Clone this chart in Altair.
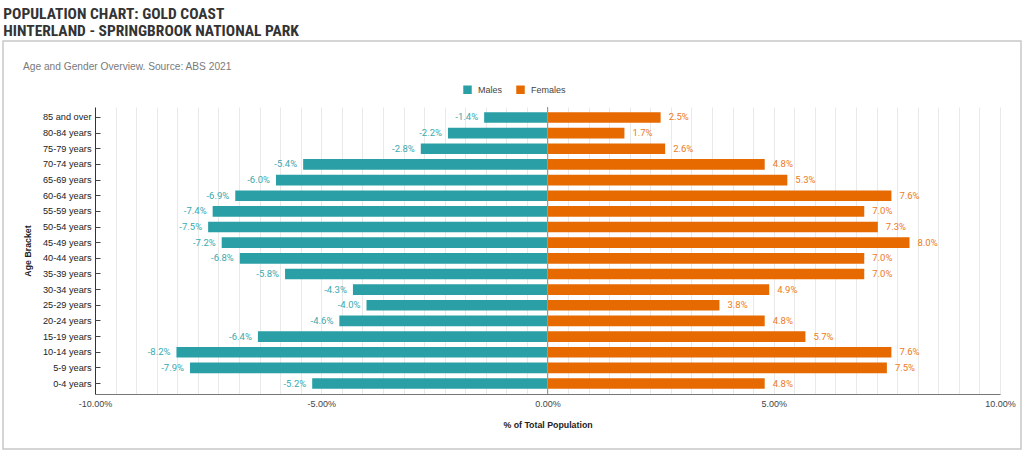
import altair as alt
import pandas as pd

title_lines = ["POPULATION CHART: GOLD COAST", "HINTERLAND - SPRINGBROOK NATIONAL PARK"]
subtitle = ["Age and Gender Overview. Source: ABS 2021"]
ages = ["85 and over", "80-84 years", "75-79 years", "70-74 years", "65-69 years",
        "60-64 years", "55-59 years", "50-54 years", "45-49 years", "40-44 years",
        "35-39 years", "30-34 years", "25-29 years", "20-24 years", "15-19 years",
        "10-14 years", "5-9 years", "0-4 years"]
males = [-1.4, -2.2, -2.8, -5.4, -6.0, -6.9, -7.4, -7.5, -7.2, -6.8,
         -5.8, -4.3, -4.0, -4.6, -6.4, -8.2, -7.9, -5.2]
females = [2.5, 1.7, 2.6, 4.8, 5.3, 7.6, 7.0, 7.3, 8.0, 7.0,
           7.0, 4.9, 3.8, 4.8, 5.7, 7.6, 7.5, 4.8]
series = ["Males", "Females"]
colors = ["#2a9fa6", "#e66a00"]
label_colors = ["#3aa9b0", "#ec7a1e"]
x_major = [-10, -5, 0, 5, 10]

rows = []
for a, m, f in zip(ages, males, females):
    rows.append({"age": a, "sex": "Males", "value": m, "label": f"{m:.1f}%"})
    rows.append({"age": a, "sex": "Females", "value": f, "label": f"{f:.1f}%"})
df = pd.DataFrame(rows)

# minor grid positions: 11 divisions between major ticks
grid_vals = []
for i in range(len(x_major) - 1):
    for k in range(11):
        grid_vals.append(round(x_major[i] + k * (x_major[i + 1] - x_major[i]) / 11, 6))
grid_vals.append(x_major[-1])

LAB = "Liberation Sans"
xscale = alt.Scale(domain=[-10, 10], nice=False, zero=False)
yscale = alt.Scale(domain=ages, paddingInner=0.32, paddingOuter=0.33)

label_expr = "(datum.value < 0 ? '-' : '') + format(abs(datum.value), '.2f') + '%'"

base = alt.Chart(df)

bars = base.mark_bar().encode(
    x=alt.X("value:Q", scale=xscale,
            axis=alt.Axis(orient="bottom", values=grid_vals, labels=False, title=None,
                          grid=True, gridColor="#e9e9e9", ticks=False, domainColor="#777")),
    y=alt.Y("age:N", scale=yscale,
            axis=alt.Axis(title="Age Bracket", ticks=False, domainColor="#333",
                          labelFont=LAB, labelFontSize=9.2, labelColor="#222", labelPadding=4,
                          titleFont=LAB, titleFontSize=8.8, titleFontWeight="bold",
                          titleColor="#222", titleX=-63)),
    color=alt.Color("sex:N", scale=alt.Scale(domain=series, range=colors),
                    legend=alt.Legend(title=None, orient="none", legendX=368, legendY=-22,
                                      direction="horizontal", symbolType="square",
                                      symbolSize=72, symbolStrokeWidth=0,
                                      labelFont=LAB, labelFontSize=9, labelColor="#444",
                                      columnPadding=13, labelOffset=6)),
)

zero = alt.Chart(pd.DataFrame({"zero": [0]})).mark_rule(color="#999", strokeWidth=1).encode(
    x=alt.X("zero:Q", scale=xscale,
            axis=alt.Axis(orient="bottom", values=x_major, labelExpr=label_expr, grid=False,
                          domain=False, ticks=False, labelFont=LAB, labelFontSize=9,
                          labelColor="#444", labelPadding=5, labelOverlap=False,
                          labelFlush=False, title="% of Total Population",
                          titleFont=LAB, titleFontSize=8.8, titleFontWeight="bold",
                          titleColor="#222", titlePadding=12)))

male_lbl = base.transform_filter(alt.datum.sex == "Males").mark_text(
    align="right", baseline="middle", dx=-6, font="Roboto", fontSize=9.5,
    color=label_colors[0]).encode(
    x=alt.X("value:Q", scale=xscale, axis=None),
    y=alt.Y("age:N", scale=yscale, axis=None), text="label:N")

female_lbl = base.transform_filter(alt.datum.sex == "Females").mark_text(
    align="left", baseline="middle", dx=8, font="Roboto", fontSize=9.5,
    color=label_colors[1]).encode(
    x=alt.X("value:Q", scale=xscale, axis=None),
    y=alt.Y("age:N", scale=yscale,
            axis=alt.Axis(orient="left", offset=-5, labels=False, domain=False, ticks=True,
                          tickSize=5, tickColor="#444", title=None, grid=False)),
    text="label:N")

frame = alt.Chart(pd.DataFrame({"f": [0]})).mark_rect(
    fillOpacity=0, stroke="#c8c8c8", strokeWidth=1.5).encode(
    x=alt.value(-92), x2=alt.value(926), y=alt.value(-66), y2=alt.value(342))

sub = alt.Chart(pd.DataFrame({"t": subtitle})).mark_text(
    align="left", baseline="alphabetic", font=LAB, fontSize=10.2, color="#7a7a7a").encode(
    x=alt.value(-72), y=alt.value(-37), text="t:N")

chart = alt.layer(frame, bars, zero, male_lbl, female_lbl, sub).resolve_axis(
    x="independent", y="independent").properties(
    width=905, height=287,
    autosize=alt.AutoSizeParams(type="none"),
    padding={"left": 95, "top": 107, "right": 24, "bottom": 57},
    title=alt.TitleParams(text=title_lines, anchor="start", frame="bounds", dx=1, offset=1,
                          font="Liberation Sans Narrow, Roboto Condensed, DejaVu Sans Condensed",
                          fontSize=15.5, fontWeight="bold", color="#333", lineHeight=17),
).configure_view(strokeWidth=0)

chart.save("out.html", embed_options={"renderer": "svg", "actions": False})
